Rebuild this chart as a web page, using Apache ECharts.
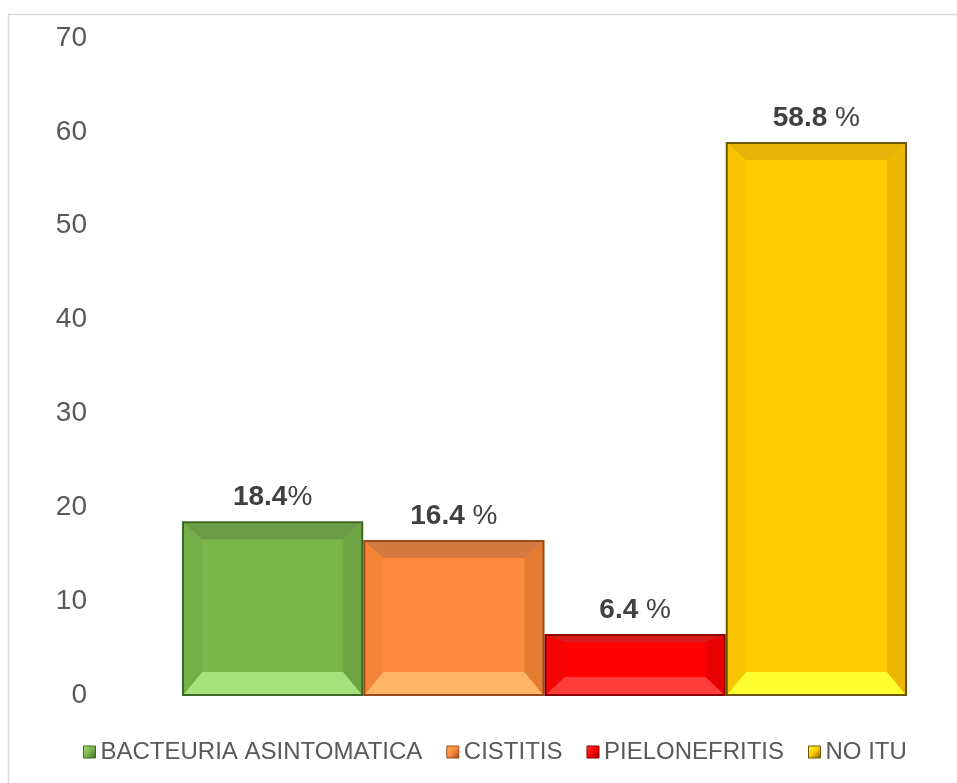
<!DOCTYPE html>
<html>
<head>
<meta charset="utf-8">
<script src="https://cdn.jsdelivr.net/npm/echarts@6/dist/echarts.min.js"></script>
<style>
  html, body { margin: 0; padding: 0; background: #ffffff; }
  #chart { width: 957px; height: 783px; }
</style>
</head>
<body>
<div id="chart"></div>
<script>
// Tipos de infección urinaria (%)
const categories = ['BACTEURIA ASINTOMATICA', 'CISTITIS', 'PIELONEFRITIS', 'NO ITU'];
const values = [18.4, 16.4, 6.4, 58.8];
// separator between the number and the "%" sign in each label
const labelSeparators = ['', ' ', ' ', ' '];
const yTicks = [0, 10, 20, 30, 40, 50, 60, 70];

// bevelled fill palette per category: main face, top, bottom, left, right, edge
const palettes = [
  { main: '#7ab64c', top: '#6c9c45', bottom: '#a6e27c', left: '#74b048', right: '#6ea443', edge: '#3e6826' },
  { main: '#fb8a3c', top: '#d47a40', bottom: '#ffb468', left: '#f48536', right: '#e47c32', edge: '#9a4a16' },
  { main: '#ff0000', top: '#d81e1e', bottom: '#ff3c3c', left: '#f40404', right: '#e80000', edge: '#8a0000' },
  { main: '#ffcc00', top: '#e6b20a', bottom: '#ffff30', left: '#f8c400', right: '#ebb600', edge: '#6e5600' }
];

const FONT = '"Liberation Sans", Arial, sans-serif';

function makeRenderItem(idx) {
  const p = palettes[idx];
  return function (params, api) {
    const cat = api.value(0);
    const v = api.value(1);
    const topPt = api.coord([cat, v]);
    const basePt = api.coord([cat, 0]);
    const w = api.size([1, 0])[0];
    const x0 = topPt[0] - w / 2 + 1, x1 = topPt[0] + w / 2 - 1;
    const y0 = topPt[1], y1 = basePt[1];
    const h = y1 - y0;
    const b = 19;
    const bt = Math.min(17, h * 0.12);
    const bb = Math.min(23, h * 0.3);
    const poly = (pts, fill) => ({ type: 'polygon', shape: { points: pts }, style: { fill: fill }, silent: true });
    const children = [
      { type: 'rect', shape: { x: x0, y: y0, width: x1 - x0, height: h }, style: { fill: p.main } },
      poly([[x0, y0], [x1, y0], [x1 - b, y0 + bt], [x0 + b, y0 + bt]], p.top),
      poly([[x0, y1], [x1, y1], [x1 - b, y1 - bb], [x0 + b, y1 - bb]], p.bottom),
      poly([[x0, y0], [x0 + b, y0 + bt], [x0 + b, y1 - bb], [x0, y1]], p.left),
      poly([[x1, y0], [x1 - b, y0 + bt], [x1 - b, y1 - bb], [x1, y1]], p.right),
      { type: 'rect', shape: { x: x0, y: y0, width: x1 - x0, height: h },
        style: { fill: null, stroke: p.edge, lineWidth: 2 }, silent: true },
      { type: 'text', silent: true,
        style: {
          x: topPt[0], y: y0 - 11,
          text: '{b|' + v.toFixed(1) + '}' + labelSeparators[idx] + '%',
          align: 'center', verticalAlign: 'bottom',
          fill: '#404040', fontSize: 28, fontFamily: FONT,
          rich: { b: { fontWeight: 'bold', fontSize: 28, fontFamily: FONT, fill: '#404040' } }
        } }
    ];
    return { type: 'group', children: children };
  };
}

const series = categories.map((name, i) => ({
  name: name,
  type: 'custom',
  renderItem: makeRenderItem(i),
  itemStyle: { color: palettes[i].main },
  encode: { x: 0, y: 1 },
  data: [[i, values[i]]]
}));

const chart = echarts.init(document.getElementById('chart'), null, { renderer: 'canvas' });
chart.setOption({
  animation: false,
  backgroundColor: '#ffffff',
  graphic: [{
    type: 'rect', silent: true,
    shape: { x: 8.5, y: 14.5, width: 1000, height: 1000 },
    style: { fill: null, stroke: '#d9d9d9', lineWidth: 1.5 }
  }],
  grid: { left: 182, right: 50, top: 38, bottom: 88, containLabel: false },
  xAxis: {
    type: 'category',
    data: categories,
    axisLine: { show: false },
    axisTick: { show: false },
    axisLabel: { show: false },
    splitLine: { show: false }
  },
  yAxis: {
    type: 'value',
    min: yTicks[0],
    max: yTicks[yTicks.length - 1],
    interval: yTicks[1] - yTicks[0],
    axisLine: { show: false },
    axisTick: { show: false },
    splitLine: { show: false },
    axisLabel: { color: '#595959', fontSize: 28, fontFamily: FONT, margin: 95 }
  },
  legend: {
    left: 83,
    top: 740,
    padding: 0,
    itemWidth: 12,
    itemHeight: 12,
    itemGap: 24,
    icon: 'rect',
    textStyle: { color: '#595959', fontSize: 24, fontFamily: FONT, padding: [0, 0, 0, 0] },
    data: categories.map((name, i) => ({
      name: name,
      icon: 'rect',
      itemStyle: {
        color: new echarts.graphic.LinearGradient(0, 0, 1, 1, [
          { offset: 0, color: palettes[i].bottom },
          { offset: 0.5, color: palettes[i].main },
          { offset: 1, color: palettes[i].edge }
        ]),
        borderColor: palettes[i].edge,
        borderWidth: 1
      }
    }))
  },
  series: series
});
</script>
</body>
</html>
